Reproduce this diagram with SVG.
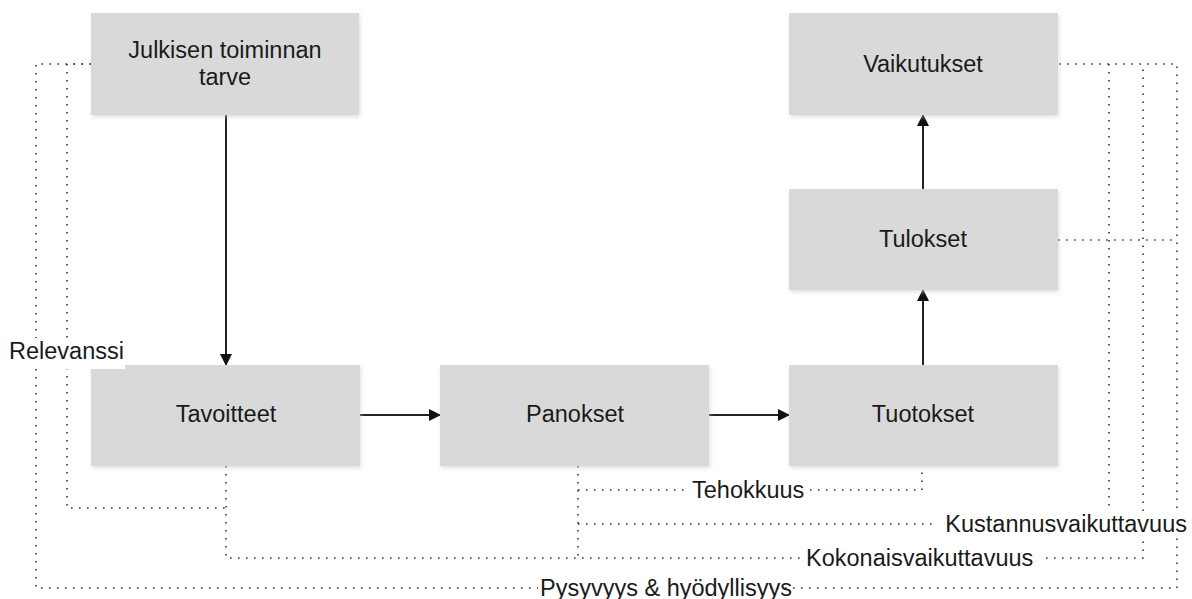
<svg xmlns="http://www.w3.org/2000/svg" width="1192" height="599" viewBox="0 0 1192 599">
<style>
.box{fill:#d9d9d9;filter:url(#sh)}
.t{font-family:"Liberation Sans",Arial,sans-serif;font-size:23.5px;fill:#1a1a1a;text-anchor:middle}
.lbl{font-family:"Liberation Sans",Arial,sans-serif;font-size:23.5px;fill:#1a1a1a}
.arr{stroke:#222;stroke-width:2;fill:none;marker-end:url(#ah)}
.dot{stroke:#333;stroke-width:1.6;fill:none;stroke-dasharray:1.6 6.4}
.bg{fill:#fff}
</style>
<defs>
<filter id="sh" x="-5%" y="-5%" width="112%" height="120%">
<feDropShadow dx="1" dy="2" stdDeviation="2" flood-color="#b8cde0" flood-opacity="0.6"/>
</filter>
<marker id="ah" markerWidth="12" markerHeight="12" refX="11" refY="6" orient="auto" markerUnits="userSpaceOnUse">
<path d="M0,0 L12,6 L0,12 Z" fill="#111"/>
</marker>
</defs>
<rect width="1192" height="599" fill="#fff"/>
<g id="connectors">
<path class="dot" d="M91,64 H36 V588 H1177 V64 H1058"/>
<path class="dot" d="M91,64 H67 V508 H226"/>
<path class="dot" d="M226,466 V558 H1143 V64"/>
<path class="dot" d="M578,466 V558"/>
<path class="dot" d="M578,490 H922 V466"/>
<path class="dot" d="M578,524 H1000"/>
<path class="dot" d="M1109,64 V516"/>
<path class="dot" d="M1058,240 H1177"/>
<line class="arr" x1="226" y1="115" x2="226" y2="365"/>
<line class="arr" x1="360" y1="415" x2="440" y2="415"/>
<line class="arr" x1="709" y1="415" x2="789" y2="415"/>
<line class="arr" x1="923" y1="365" x2="923" y2="290"/>
<line class="arr" x1="923" y1="189" x2="923" y2="115"/>
</g>
<g id="n-julkisen"><rect class="box" x="91" y="13" width="268" height="102"/><text class="t" x="225" y="58">Julkisen toiminnan</text><text class="t" x="225" y="85">tarve</text></g>
<g id="n-vaikutukset"><rect class="box" x="789" y="13" width="269" height="102"/><text class="t" x="923" y="72">Vaikutukset</text></g>
<g id="n-tulokset"><rect class="box" x="789" y="189" width="269" height="101"/><text class="t" x="923" y="247">Tulokset</text></g>
<g id="n-tavoitteet"><rect class="box" x="91" y="365" width="269" height="101"/><text class="t" x="226" y="422">Tavoitteet</text></g>
<g id="n-panokset"><rect class="box" x="440" y="365" width="269" height="101"/><text class="t" x="575" y="422">Panokset</text></g>
<g id="n-tuotokset"><rect class="box" x="789" y="365" width="269" height="101"/><text class="t" x="923" y="422">Tuotokset</text></g>
<g id="labels">
<rect class="bg" x="4" y="338" width="121" height="31"/>
<text class="lbl" x="9" y="359">Relevanssi</text>
<rect class="bg" x="690" y="478" width="118" height="25"/>
<text class="lbl" x="692" y="498">Tehokkuus</text>
<rect class="bg" x="938" y="511" width="252" height="26"/>
<text class="lbl" x="1187" y="532" text-anchor="end">Kustannusvaikuttavuus</text>
<rect class="bg" x="804" y="545" width="240" height="26"/>
<text class="lbl" x="806" y="566">Kokonaisvaikuttavuus</text>
<rect class="bg" x="538" y="575" width="232" height="24"/>
<text class="lbl" x="540" y="596">Pysyvyys &amp; hyödyllisyys</text>
</g>
</svg>
